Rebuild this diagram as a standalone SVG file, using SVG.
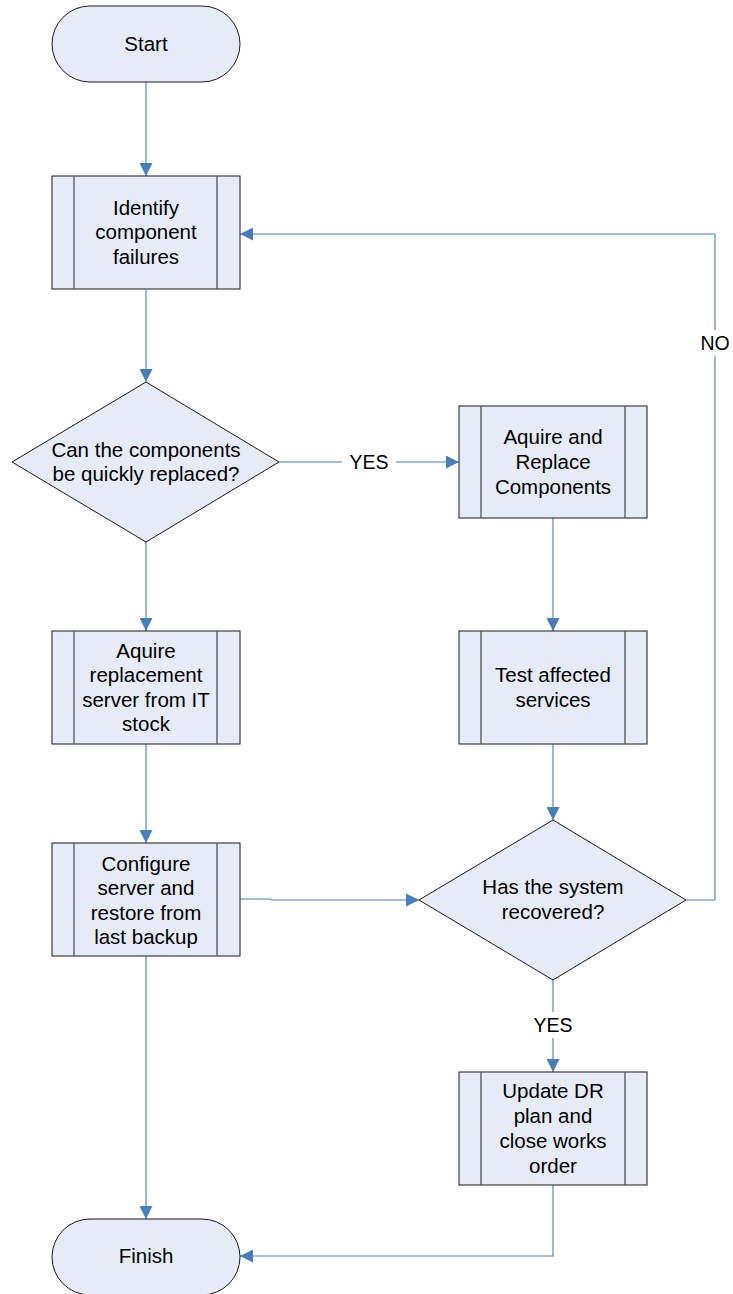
<svg xmlns="http://www.w3.org/2000/svg" width="733" height="1294" viewBox="0 0 733 1294">
  <defs>
    <marker id="arrow" viewBox="0 0 10 10" refX="10" refY="5" markerWidth="13" markerHeight="13" markerUnits="userSpaceOnUse" orient="auto">
      <path d="M0,0 L10,5 L0,10 z" fill="#4A7EBB"/>
    </marker>
    <style>
      .shape { fill: #E6ECF7; stroke: #1a1a1a; stroke-width: 1; }
      .bar { stroke: #555; stroke-width: 1.3; fill: none; }
      .label { font-family: "Liberation Sans", Arial, sans-serif; font-size: 20.5px; fill: #000; text-anchor: middle; }
      .conn { fill: none; stroke: #4A7EBB; stroke-width: 1.1; }
      .tag { font-family: "Liberation Sans", Arial, sans-serif; font-size: 19.5px; fill: #000; text-anchor: middle; }
    </style>
  </defs>
  <rect width="733" height="1294" fill="#fff"/>

  <g id="connectors">
    <path class="conn" d="M146,82 V176" marker-end="url(#arrow)"/>
    <path class="conn" d="M146,290 V382" marker-end="url(#arrow)"/>
    <path class="conn" d="M279,462 H342 M396,462 H459" marker-end="url(#arrow)"/>
    <path class="conn" d="M146,542 V631" marker-end="url(#arrow)"/>
    <path class="conn" d="M553,518 V631" marker-end="url(#arrow)"/>
    <path class="conn" d="M146,744 V843" marker-end="url(#arrow)"/>
    <path class="conn" d="M553,744 V820" marker-end="url(#arrow)"/>
    <path class="conn" d="M240,899 H270 L272,900 H419" marker-end="url(#arrow)"/>
    <path class="conn" d="M686,900 H715 V356 M715,330 V234 H240" marker-end="url(#arrow)"/>
    <path class="conn" d="M553,980 V1012 M553,1038 V1072" marker-end="url(#arrow)"/>
    <path class="conn" d="M146,956 V1219" marker-end="url(#arrow)"/>
    <path class="conn" d="M553,1185 V1256 H240" marker-end="url(#arrow)"/>
    <text class="tag" x="369" y="469">YES</text>
    <text class="tag" x="715" y="350">NO</text>
    <text class="tag" x="553" y="1032">YES</text>
  </g>

  <g id="start">
    <rect class="shape" x="52" y="6" width="188" height="76" rx="38" ry="38"/>
    <text class="label" x="146" y="51">Start</text>
  </g>

  <g id="identify">
    <rect class="shape" x="52" y="176" width="188" height="113"/>
    <path class="bar" d="M74,176 V289 M217,176 V289"/>
    <text class="label" x="146" y="215">Identify</text>
    <text class="label" x="146" y="239">component</text>
    <text class="label" x="146" y="264">failures</text>
  </g>

  <g id="quick-replace">
    <path class="shape" d="M146,382 L279,462 L146,542 L12,462 Z"/>
    <text class="label" x="146" y="457">Can the components</text>
    <text class="label" x="146" y="481">be quickly replaced?</text>
  </g>

  <g id="replace-components">
    <rect class="shape" x="459" y="406" width="188" height="112"/>
    <path class="bar" d="M481,406 V518 M625,406 V518"/>
    <text class="label" x="553" y="444">Aquire and</text>
    <text class="label" x="553" y="469">Replace</text>
    <text class="label" x="553" y="494">Components</text>
  </g>

  <g id="replacement-server">
    <rect class="shape" x="52" y="631" width="188" height="113"/>
    <path class="bar" d="M74,631 V744 M217,631 V744"/>
    <text class="label" x="146" y="658">Aquire</text>
    <text class="label" x="146" y="682">replacement</text>
    <text class="label" x="146" y="707">server from IT</text>
    <text class="label" x="146" y="731">stock</text>
  </g>

  <g id="test-services">
    <rect class="shape" x="459" y="631" width="188" height="113"/>
    <path class="bar" d="M481,631 V744 M625,631 V744"/>
    <text class="label" x="553" y="682">Test affected</text>
    <text class="label" x="553" y="707">services</text>
  </g>

  <g id="configure-server">
    <rect class="shape" x="52" y="843" width="188" height="113"/>
    <path class="bar" d="M74,843 V956 M217,843 V956"/>
    <text class="label" x="146" y="871">Configure</text>
    <text class="label" x="146" y="895">server and</text>
    <text class="label" x="146" y="920">restore from</text>
    <text class="label" x="146" y="944">last backup</text>
  </g>

  <g id="recovered">
    <path class="shape" d="M553,820 L686,900 L553,980 L419,900 Z"/>
    <text class="label" x="553" y="894">Has the system</text>
    <text class="label" x="553" y="919">recovered?</text>
  </g>

  <g id="update-plan">
    <rect class="shape" x="459" y="1072" width="188" height="113"/>
    <path class="bar" d="M481,1072 V1185 M625,1072 V1185"/>
    <text class="label" x="553" y="1098">Update DR</text>
    <text class="label" x="553" y="1123">plan and</text>
    <text class="label" x="553" y="1148">close works</text>
    <text class="label" x="553" y="1173">order</text>
  </g>

  <g id="finish">
    <rect class="shape" x="52" y="1219" width="188" height="76" rx="38" ry="38"/>
    <text class="label" x="146" y="1263">Finish</text>
  </g>
</svg>
